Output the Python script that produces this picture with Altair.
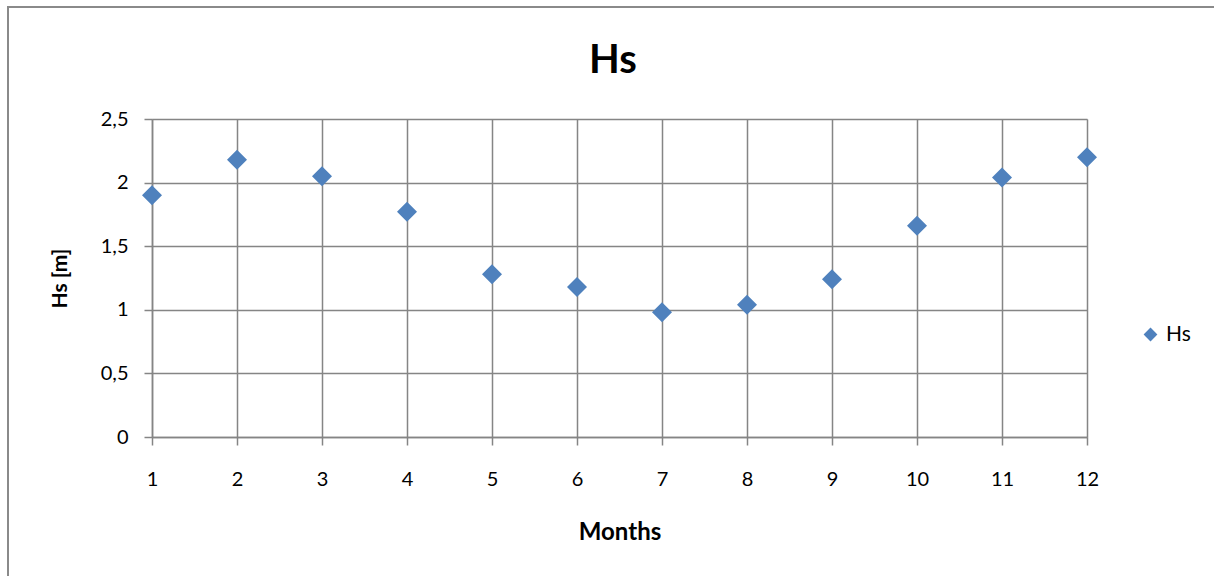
import altair as alt
import pandas as pd

# Monthly mean significant wave height
months = [1, 2, 3, 4, 5, 6, 7, 8, 9, 10, 11, 12]
hs_values = [1.90, 2.18, 2.05, 1.77, 1.28, 1.18, 0.98, 1.04, 1.24, 1.66, 2.04, 2.20]
series_name = "Hs"
y_ticks = [0, 0.5, 1, 1.5, 2, 2.5]
chart_title = "Hs"

FONT = "Lato"
GRID = "#858585"
GW = 1.5
BLUE = "#4F81BD"

df = pd.DataFrame({"month": months, "hs": hs_values, "series": [series_name] * len(months)})

x_enc = alt.X(
    "month:Q",
    scale=alt.Scale(domain=[1, 12], nice=False, zero=False),
    axis=alt.Axis(
        title="Months", values=months, format="d", labelFlush=False,
        grid=True, gridColor=GRID, gridWidth=GW,
        domainColor=GRID, domainWidth=GW,
        tickColor=GRID, tickSize=8, tickWidth=GW,
        labelFont=FONT, labelFontSize=20, labelColor="black", labelPadding=24,
        titleFont=FONT, titleFontSize=24, titleFontWeight="bold", titleColor="black",
        titlePadding=31,
    ),
)
y_enc = alt.Y(
    "hs:Q",
    scale=alt.Scale(domain=[0, 2.5], nice=False),
    axis=alt.Axis(
        title="Hs [m]", values=y_ticks, format="~g", labelFlush=False,
        labelExpr="replace(datum.label, '.', ',')",
        grid=True, gridColor=GRID, gridWidth=GW,
        domainColor=GRID, domainWidth=GW,
        tickColor=GRID, tickSize=8, tickWidth=GW,
        labelFont=FONT, labelFontSize=20, labelColor="black", labelPadding=16,
        titleFont=FONT, titleFontSize=21, titleFontWeight="bold", titleColor="black",
        titlePadding=30,
    ),
)

points = alt.Chart(df).mark_point(shape="diamond", filled=True, size=400, opacity=1).encode(
    x=x_enc,
    y=y_enc,
    color=alt.Color(
        "series:N",
        scale=alt.Scale(range=[BLUE]),
        legend=alt.Legend(
            title=None, orient="none", legendX=988, legendY=205, padding=0,
            symbolType="diamond", symbolSize=190, symbolOpacity=1,
            labelFont=FONT, labelFontSize=21, labelColor="black", labelOffset=5,
        ),
    ),
)

base = alt.Chart(pd.DataFrame({"k": [0]}))

# Outer frame around the whole chart
frame = base.mark_rect(fill=None, stroke="#8a8a8a", strokeWidth=2).encode(
    x=alt.value(-144), y=alt.value(-112), x2=alt.value(1300), y2=alt.value(700)
)

# Chart heading
heading = base.mark_text(
    text=chart_title, font=FONT, fontSize=40, fontWeight="bold", color="black",
    align="center", baseline="alphabetic",
).encode(x=alt.value(461), y=alt.value(-46))

chart = alt.layer(frame, heading, points).properties(
    width=935,
    height=318,
    autosize=alt.AutoSizeParams(type="none"),
    padding={"left": 152, "top": 119, "right": 127, "bottom": 139},
).configure_view(stroke=GRID, strokeWidth=GW).configure(background="white")

chart.save("out.html", embed_options={"renderer": "svg", "actions": False})
